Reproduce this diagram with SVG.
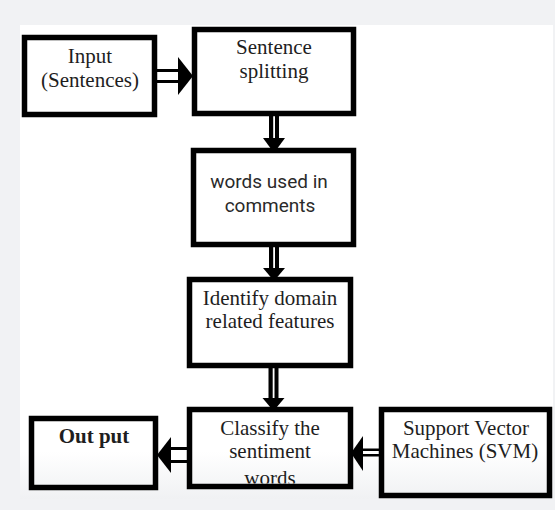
<svg xmlns="http://www.w3.org/2000/svg" width="555" height="510" viewBox="0 0 555 510">
<defs>
<linearGradient id="bg" x1="0" y1="0" x2="0" y2="1">
<stop offset="0" stop-color="#ffffff"/>
<stop offset="0.9" stop-color="#ffffff"/>
<stop offset="1" stop-color="#f0f1f3"/>
</linearGradient>
<clipPath id="clipClassify"><rect x="192" y="412" width="156" height="71.5"/></clipPath>
<style>
.box{fill:none;stroke:#000;stroke-width:5.5}
.serif{font-family:"Liberation Serif","Times New Roman",serif;font-size:21px;fill:#1e1e1e;text-anchor:middle}
.sans{font-family:Roboto,"Liberation Sans",Arial,sans-serif;font-size:19px;fill:#2a2a2a;text-anchor:middle}
.bold{font-weight:bold}
.blk{fill:#000}
.wht{fill:#fff}
</style>
</defs>
<rect x="0" y="0" width="555" height="510" fill="#f1f2f4"/>
<rect x="20" y="25" width="533" height="474" fill="url(#bg)"/>

<g id="connectors">
<!-- Input -> Sentence splitting -->
<rect class="blk" x="156" y="69" width="24" height="14"/>
<rect class="wht" x="156" y="72" width="24" height="8"/>
<polygon class="blk" points="178,57 193,76 178,95"/>
<!-- Sentence splitting -> words -->
<rect class="blk" x="269" y="115" width="10" height="25"/>
<rect class="wht" x="273.2" y="115" width="1.8" height="24"/>
<polygon class="blk" points="263,138 285,138 274,153"/>
<!-- words -> Identify -->
<rect class="blk" x="269" y="246" width="10" height="24"/>
<rect class="wht" x="273.2" y="246" width="1.8" height="23"/>
<polygon class="blk" points="263,268 285,268 274,281"/>
<!-- Identify -> Classify -->
<rect class="blk" x="268.5" y="367" width="10" height="33"/>
<rect class="wht" x="272.7" y="367" width="1.8" height="32"/>
<polygon class="blk" points="262.5,398 284.5,398 273.5,411"/>
<!-- Classify -> Out put -->
<rect class="blk" x="168" y="447" width="21" height="16"/>
<rect class="wht" x="168" y="450" width="21" height="10"/>
<polygon class="blk" points="171,437 157,455 171,473"/>
<!-- SVM -> Classify -->
<rect class="blk" x="358" y="448.5" width="23" height="8"/>
<rect class="wht" x="358" y="451" width="23" height="3"/>
<polygon class="blk" points="363,436 351,453 363,471"/>
</g>

<g id="node-input">
<rect class="box" x="24.5" y="37.5" width="130" height="77"/>
<text class="serif" x="90" y="63">Input</text>
<text class="serif" x="90" y="87">(Sentences)</text>
</g>

<g id="node-sentence">
<rect class="box" x="194.5" y="29.5" width="159" height="84"/>
<text class="serif" x="274" y="54">Sentence</text>
<text class="serif" x="274" y="78">splitting</text>
</g>

<g id="node-words">
<rect class="box" x="193.5" y="150.5" width="160" height="94"/>
<text class="sans" x="269" y="188">words used in</text>
<text class="sans" x="270" y="212">comments</text>
</g>

<g id="node-identify">
<rect class="box" x="189.5" y="279.5" width="161" height="86"/>
<text class="serif" x="270" y="305">Identify domain</text>
<text class="serif" x="270" y="328">related features</text>
</g>

<g id="node-classify">
<rect class="box" x="189.5" y="409.5" width="161" height="77"/>
<g clip-path="url(#clipClassify)">
<text class="serif" x="270" y="435">Classify the</text>
<text class="serif" x="270" y="458">sentiment</text>
<text class="serif" x="270" y="484.5">words</text>
</g>
</g>

<g id="node-output">
<rect class="box" x="31.5" y="418.5" width="124" height="69"/>
<text class="serif bold" x="94" y="443">Out put</text>
</g>

<g id="node-svm">
<rect class="box" x="381.5" y="409.5" width="168" height="86"/>
<text class="serif" x="466" y="435">Support Vector</text>
<text class="serif" x="465" y="458">Machines (SVM)</text>
</g>
</svg>
